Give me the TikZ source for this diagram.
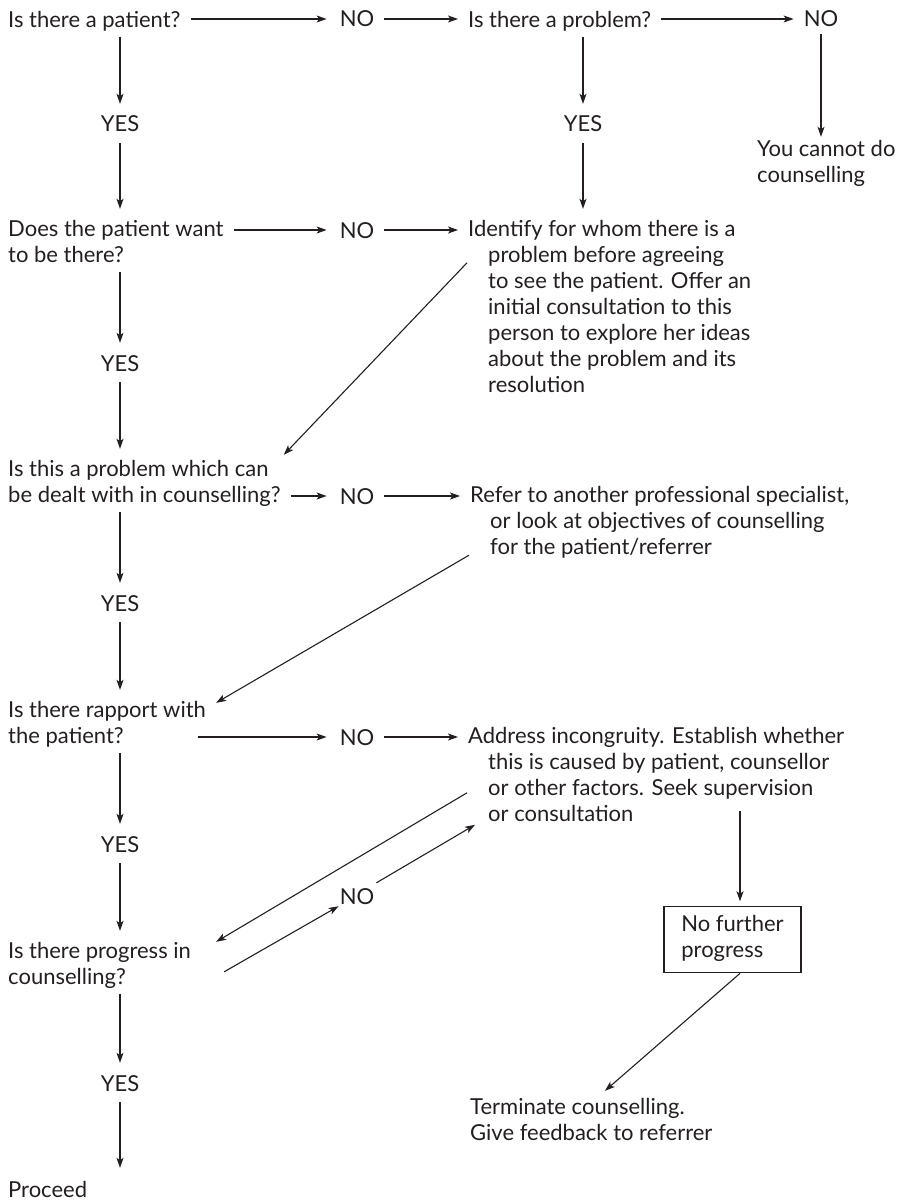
\documentclass[tikz,border=0pt]{standalone}
\usepackage{fontspec}
\setmainfont{Lato}
\usetikzlibrary{arrows.meta,calc}
\definecolor{ink}{RGB}{35,31,32}
\newcommand{\ind}{\hspace*{20pt}}
\begin{document}
\begin{tikzpicture}[x=1pt,y=-1pt,
  every node/.style={font=\fontsize{22}{26}\selectfont, text=ink, inner sep=0pt},
  txt/.style={align=left, anchor=north west,
    execute at begin node=\strut, execute at end node=\strut},
  lbl/.style={text height=16pt, text depth=0pt, anchor=base},
  arr/.style={draw=ink, line width=1.1pt, -{Stealth[length=10pt,width=7pt,inset=2.5pt]}},
  hq/.style={arr, shorten <=10pt, shorten >=13pt},
  hn/.style={arr, shorten <=10pt, shorten >=10pt},
  vq/.style={arr, shorten <=1.5pt, shorten >=12pt},
  vy/.style={arr, shorten <=11pt, shorten >=11pt},
  boxnode/.style={draw=ink, line width=1.1pt, align=left, inner xsep=0pt, inner ysep=8pt,
    minimum width=137pt, execute at begin node=\strut, execute at end node=\strut}
]
\useasboundingbox (0,0) rectangle (908,1201);

% left-hand column of questions
\node[txt] (q1) at (8,8.8) {Is there a patient?};
\node[lbl] (yes1) at (120,132) {YES};
\node[txt] (q2) at (8,219.8) {Does the patient want\\to be there?};
\node[lbl] (yes2) at (120,371) {YES};
\node[txt] (q3) at (8,459.8) {Is this a problem which can\\be dealt with in counselling?};
\node[lbl] (yes3) at (120,611) {YES};
\node[txt] (q4) at (8,700.8) {Is there rapport with\\the patient?};
\node[lbl] (yes4) at (120,852) {YES};
\node[txt] (q5) at (8,941.8) {Is there progress in\\counselling?};
\node[lbl] (yes5) at (120,1091) {YES};
\node[txt] (q6) at (8,1178.8) {Proceed};

% NO labels
\node[lbl] (no1) at (357,27) {NO};
\node[lbl] (no2) at (357,238) {NO};
\node[lbl] (no3) at (357,504) {NO};
\node[lbl] (no4) at (357,745) {NO};
\node[lbl] (no5) at (357,904) {NO};
\node[lbl] (noR) at (821,27) {NO};

% right-hand column
\node[txt] (p1) at (468,8.8) {Is there a problem?};
\node[lbl] (yesP) at (583,132) {YES};
\node[txt] (tc) at (757,139.8) {You cannot do\\counselling};
\node[txt] (p2) at (468,219.8) {Identify for whom there is a\\\ind problem before agreeing\\\ind to see the patient. Offer an\\\ind initial consultation to this\\\ind person to explore her ideas\\\ind about the problem and its\\\ind resolution};
\node[txt] (p3) at (470,485.8) {Refer to another professional specialist,\\\ind or look at objectives of counselling\\\ind for the patient/referrer};
\node[txt] (p4) at (468,726.8) {Address incongruity. Establish whether\\\ind this is caused by patient, counsellor\\\ind or other factors. Seek supervision\\\ind or consultation};
\node[boxnode] (stuck) at (732.5,939.8) {No further\\progress};
\node[txt] (term) at (470,1097.8) {Terminate counselling.\\Give feedback to referrer};
\coordinate (stucktop) at ($(stuck.north)+(7.5,0)$);
\coordinate (stuckbot) at ($(stuck.south)+(7.5,0)$);

% vertical YES chain
\draw[vq] (q1.south -| yes1) -- (yes1);
\draw[vy] (yes1) -- (q2.north -| yes1);
\draw[vq] (q2.south -| yes2) -- (yes2);
\draw[vy] (yes2) -- (q3.north -| yes2);
\draw[vq] (q3.south -| yes3) -- (yes3);
\draw[vy] (yes3) -- (q4.north -| yes3);
\draw[vq] (q4.south -| yes4) -- (yes4);
\draw[vy] (yes4) -- (q5.north -| yes4);
\draw[vq] (q5.south -| yes5) -- (yes5);
\draw[vy] (yes5) -- (q6.north -| yes5);

% horizontal NO branches
\draw[hq] (q1.east |- no1) -- (no1);
\draw[hn] (no1) -- (p1.west |- no1);
\draw[hq] (q2.east |- no2) -- (no2);
\draw[hn] (no2) -- (p2.west |- no2);
\draw[hq] (q3.east |- no3) -- (no3);
\draw[hn] (no3) -- (p3.west |- no3);
\draw[arr, shorten >=13pt] ($(q4.west |- no4)+(190,0)$) -- (no4);
\draw[hn] (no4) -- (p4.west |- no4);
\draw[hn] (p1.east |- noR) -- (noR);

% "Is there a problem?" branch
\draw[vq] (p1.south -| yesP) -- (yesP);
\draw[vy] (yesP) -- (p2.north -| yesP);
\draw[arr, shorten <=7pt, shorten >=3pt] (noR) -- (tc.north -| noR);

% diagonal returns
\draw[arr] ($(p2.north west)+(-1,43)$) -- ($(q3.north east)+(3,-5)$);
\draw[arr] ($(p3.south west)+(-1,-7)$) -- ($(q4.north east)+(10,2)$);
\draw[arr] ($(p4.north west)+(-1,66)$) -- ($(q5.north east)+(25,0)$);
\draw[arr] ($(q5.north east)+(33,30)$) -- ($(no5.south west)+(-1,2)$);
\draw[arr] ($(no5.north east)+(2,-5)$) -- ($(p4.north west)+(7,98)$);

% no further progress
\draw[arr, shorten >=5pt] ($(stucktop |- p4.south)+(0,-18)$) -- (stucktop);
\draw[arr] (stuckbot) -- ($(term.north west)+(135,-7)$);
\end{tikzpicture}
\end{document}
